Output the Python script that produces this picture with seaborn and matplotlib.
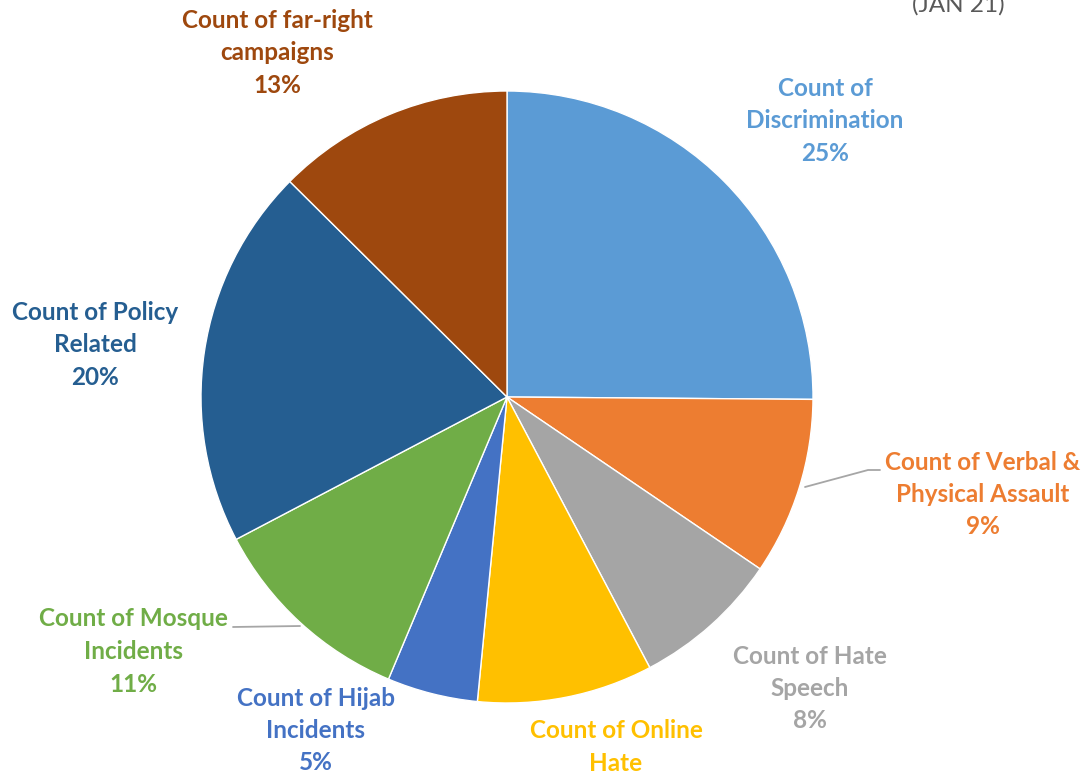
import matplotlib.pyplot as plt
import seaborn as sns

categories = ['Count of\nDiscrimination', 'Count of Verbal &\nPhysical Assault',
              'Count of Hate\nSpeech', 'Count of Online\nHate', 'Count of Hijab\nIncidents',
              'Count of Mosque\nIncidents', 'Count of Policy\nRelated',
              'Count of far-right\ncampaigns']
shares = [25.2, 9.4, 7.8, 9.3, 4.8, 11.0, 20.2, 12.6]
pct_labels = ['25%', '9%', '8%', '9%', '5%', '11%', '20%', '13%']
colors = ['#5B9BD5', '#ED7D31', '#A5A5A5', '#FFC000', '#4472C4',
          '#70AD47', '#255E91', '#9E480E']

# label centres in pixel coords (x, y of first line from top)
label_pos = [(825, 88), (983, 462), (810, 656), (616, 731), (316, 698),
             (133, 619), (95, 312), (277, 20)]

sns.set_theme(style='white')
plt.rcParams['font.family'] = ['Lato', 'DejaVu Sans']

W, H = 1091, 778
fig = plt.figure(figsize=(W / 100, H / 100), dpi=100)
ax = fig.add_axes([0, 0, 1, 1])

cx, cy, r = 507, H - 397, 306
ax.pie(shares, colors=colors, startangle=90, counterclock=False,
       center=(cx, cy), radius=r, frame=True,
       wedgeprops=dict(edgecolor='white', linewidth=1))
ax.set_xlim(0, W)
ax.set_ylim(0, H)
ax.set_aspect('equal')
ax.axis('off')

for name, pct, col, (x, y) in zip(categories, pct_labels, colors, label_pos):
    lines = name.split('\n') + [pct]
    for i, line in enumerate(lines):
        ax.text(x, H - (y + i * 32.5), line, color=col, fontsize=17.5,
                fontweight='bold', ha='center', va='center')

# leader lines
ax.plot([805, 868, 880], [H - 487, H - 470, H - 470], color='#A6A6A6', lw=1.3)
ax.plot([300, 233], [H - 626, H - 627], color='#A6A6A6', lw=1.3)

ax.text(958, H - 5, '(JAN 21)', color='#595959', fontsize=17.5,
        ha='center', va='center')

fig.savefig('out.png', dpi=100)
